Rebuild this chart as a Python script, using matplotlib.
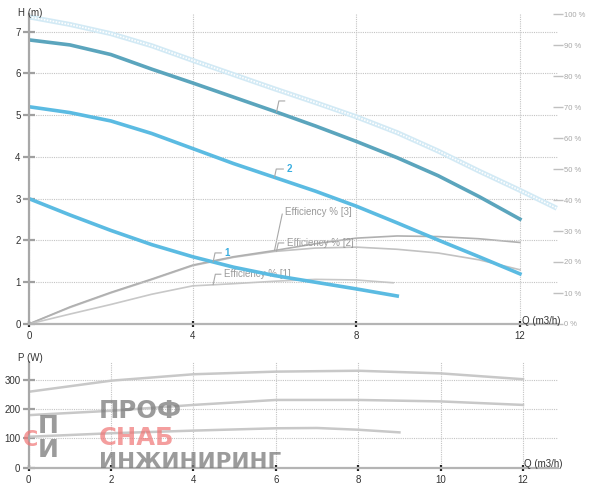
import matplotlib
matplotlib.use('Agg')
import matplotlib.pyplot as plt
import numpy as np

plt.rcParams['font.family'] = ['Liberation Sans', 'DejaVu Sans']

# ---------------- data ----------------
Q_h = [0, 1, 2, 3, 4, 5, 6, 7, 8, 9, 10, 11, 12]
H3 = [6.80, 6.68, 6.45, 6.10, 5.77, 5.43, 5.09, 4.74, 4.37, 3.98, 3.55, 3.05, 2.51]
H2 = [5.20, 5.06, 4.86, 4.56, 4.20, 3.84, 3.51, 3.18, 2.82, 2.42, 2.01, 1.61, 1.20]
Q_h1 = [0, 1, 2, 3, 4, 5, 6, 7, 8, 9]
H1 = [3.00, 2.61, 2.24, 1.90, 1.61, 1.36, 1.16, 1.00, 0.84, 0.67]
Q_max = [0, 1, 2, 3, 4, 5, 6, 7, 8, 9, 10, 11, 12, 12.9]
H_max = [7.35, 7.17, 6.95, 6.66, 6.31, 5.97, 5.63, 5.30, 4.96, 4.58, 4.14, 3.66, 3.20, 2.77]

Q_e = [0, 1, 2, 3, 4, 5, 6, 7, 8, 9, 10, 11, 12]
E3 = [0, 5.5, 10.2, 14.5, 19.0, 21.7, 23.7, 25.9, 27.7, 28.4, 28.2, 27.5, 26.3]
E2 = [0, 5.3, 10.0, 14.3, 18.8, 21.5, 23.4, 24.5, 24.8, 24.1, 22.9, 20.7, 17.5]
Q_e1 = [0, 1, 2, 3, 4, 5, 6, 7, 8, 8.9]
E1 = [0, 3.2, 6.3, 9.6, 12.3, 13.0, 13.8, 14.4, 14.2, 13.3]

Q_p = [0, 2, 4, 6, 8, 10, 12]
P3 = [260, 298, 320, 329, 332, 323, 303]
P2 = [180, 195, 215, 232, 232, 227, 215]
Q_p1 = [0, 2, 4, 6, 7, 8, 9]
P1 = [106, 118, 127, 135, 136, 130, 121]

h_ticks = [0, 1, 2, 3, 4, 5, 6, 7]
q_ticks_top = [0, 4, 8, 12]
q_ticks_bot = [0, 2, 4, 6, 8, 10, 12]
p_ticks = [0, 100, 200, 300]
eff_ticks = list(range(0, 101, 10))
eff_labels = [f"{v} %" for v in eff_ticks]

# ---------------- figure ----------------
W, Hpx = 600, 494
fig = plt.figure(figsize=(W / 100, Hpx / 100), dpi=100)

def fx(px):
    return px / W

def fy(py):
    return 1 - py / Hpx

c_blue = '#5bbbe2'
c_teal = '#5ba5bd'
c_grid = '#c4c4c4'

def style_axes(a):
    for s in ['top', 'right']:
        a.spines[s].set_visible(False)
    a.spines['left'].set_color('#a8a8a8')
    a.spines['left'].set_linewidth(1.6)
    a.spines['bottom'].set_color('#b4b4b4')
    a.spines['bottom'].set_linewidth(1.6)
    a.grid(True, color=c_grid, linestyle=(0, (1, 1)), linewidth=0.8)
    a.tick_params(axis='y', direction='inout', length=8, width=1.6, color='#a0a0a0',
                  labelsize=7, labelcolor='#333333', pad=2)
    a.tick_params(axis='x', direction='inout', length=4, width=1.6, color='#222222',
                  labelsize=7, labelcolor='#333333', pad=3)

# ---- top panel ----
ax2 = fig.add_axes([fx(29), fy(324), fx(558) - fx(29), fy(14) - fy(324)])
ax = fig.add_axes([fx(29), fy(324), fx(558) - fx(29), fy(14) - fy(324)], sharex=ax2)
ax.set_zorder(ax2.get_zorder() + 1)
ax.patch.set_visible(False)

ax.set_xlim(0, 12.93)
ax.set_ylim(0, 7.42)
ax.set_xticks(q_ticks_top)
ax.set_yticks(h_ticks)
style_axes(ax)

ax2.set_ylim(0, 100)
ax2.set_yticks(eff_ticks)
ax2.set_yticklabels(eff_labels)
for s in ax2.spines.values():
    s.set_visible(False)
ax2.yaxis.tick_right()
ax2.tick_params(axis='y', direction='inout', length=7, width=1.0, color='#c0c0c0',
                labelsize=5.5, labelcolor='#a8a8a8', pad=1)
ax2.tick_params(axis='x', bottom=False, labelbottom=False)

# efficiency curves
ax2.plot(Q_e, E2, color='#c2c2c2', lw=1.2)
ax2.plot(Q_e, E3, color='#b0b0b0', lw=1.2)
ax2.plot(Q_e1, E1, color='#c8c8c8', lw=1.2)

# max curve (light chain)
ax.plot(Q_max, H_max, color='#d3eaf5', lw=3.6, solid_capstyle='butt')
ax.plot(Q_max, H_max, color='white', lw=1.2, linestyle=(0, (1.0, 0.8)))
# speed curves
ax.plot(Q_h, H3, color=c_teal, lw=2.6)
ax.plot(Q_h, H2, color=c_blue, lw=2.6)
ax.plot(Q_h1, H1, color=c_blue, lw=2.6)

lead = dict(arrowstyle='-', color='#a8a8a8', lw=0.8,
            connectionstyle='angle,angleA=0,angleB=78,rad=0', shrinkA=0, shrinkB=0)

ax.annotate('', xy=(6.05, np.interp(6.05, Q_h, H3)), xytext=(6.0, 8.0),
            textcoords='offset points', arrowprops=lead)
ax.annotate('2', xy=(6.0, np.interp(6.0, Q_h, H2)), xytext=(8.5, 6.0),
            textcoords='offset points', ha='left', va='center',
            color='#3aaee0', fontsize=7, fontweight='bold', arrowprops=lead)
ax.annotate('1', xy=(4.5, np.interp(4.5, Q_h1, H1)), xytext=(8.0, 6.5),
            textcoords='offset points', ha='left', va='center',
            color='#3aaee0', fontsize=7, fontweight='bold', arrowprops=lead)

ax2.annotate('Efficiency % [3]', xy=(6.0, np.interp(6.0, Q_e, E3)), xytext=(7.6, 27.4),
             textcoords='offset points', ha='left', va='center',
             color='#9a9a9a', fontsize=7, arrowprops=lead)
ax2.annotate('Efficiency % [2]', xy=(6.05, np.interp(6.05, Q_e, E2)), xytext=(7.3, 6.0),
             textcoords='offset points', ha='left', va='center',
             color='#9a9a9a', fontsize=7, arrowprops=lead)
ax2.annotate('Efficiency % [1]', xy=(4.5, np.interp(4.5, Q_e1, E1)), xytext=(7.7, 7.6),
             textcoords='offset points', ha='left', va='center',
             color='#9a9a9a', fontsize=7, arrowprops=lead)

fig.text(fx(18), fy(12.5), 'H (m)', fontsize=7, color='#333333', va='center', ha='left')
ax.annotate('Q (m3/h)', xy=(12, 0), xytext=(1.5, 2.5), textcoords='offset points',
            ha='left', va='center', fontsize=7, color='#333333')

# ---- bottom panel ----
axp = fig.add_axes([fx(28.7), fy(467.7), fx(558) - fx(28.7), fy(361.7) - fy(467.7)])
axp.set_xlim(0, 12.85)
axp.set_ylim(0, 363)
axp.set_xticks(q_ticks_bot)
axp.set_yticks(p_ticks)
style_axes(axp)
axp.plot(Q_p, P3, color='#c8c8c8', lw=1.8)
axp.plot(Q_p, P2, color='#c8c8c8', lw=1.8)
axp.plot(Q_p1, P1, color='#c8c8c8', lw=1.8)
fig.text(fx(18), fy(357.5), 'P (W)', fontsize=7, color='#333333', va='center', ha='left')
axp.annotate('Q (m3/h)', xy=(12, 0), xytext=(0.5, 2.5), textcoords='offset points',
             ha='left', va='center', fontsize=7, color='#333333')

# ---- watermark ----
wm_gray = '#7a7a7a'
wm_pink = '#f07575'
wm = dict(fontweight='bold', family=['DejaVu Sans'], ha='left', zorder=20)
fig.text(fx(99), fy(418), 'ПРОФ', fontsize=17.5, color=wm_gray, alpha=0.75,
         va='baseline', **wm)
fig.text(fx(99), fy(445), 'СНАБ', fontsize=17.5, color=wm_pink, alpha=0.7,
         va='baseline', **wm)
fig.text(fx(99), fy(468), 'ИНЖИНИРИНГ', fontsize=15.5, color=wm_gray, alpha=0.75,
         va='baseline', **wm)
fig.text(fx(38), fy(438), 'П\nИ', fontsize=18, color=wm_gray, alpha=0.75,
         va='center', linespacing=1.05, **wm)
fig.text(fx(23), fy(440), 'С', fontsize=15, color=wm_pink, alpha=0.7,
         va='center', **wm)

fig.savefig('out.png', dpi=100)
